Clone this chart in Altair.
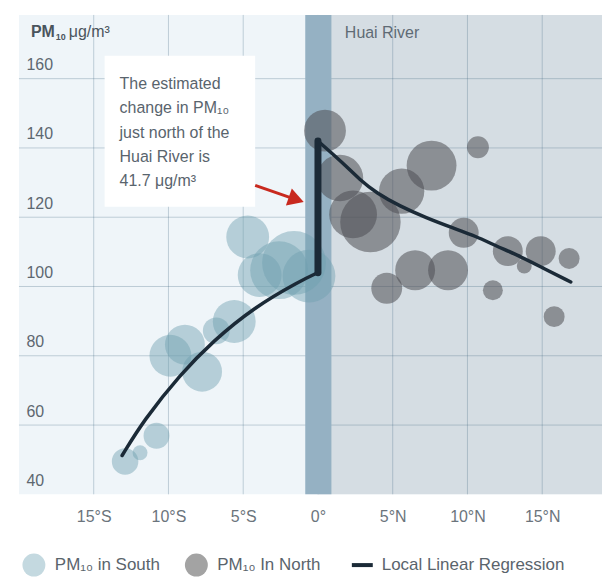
import altair as alt
import pandas as pd

FONT = "Liberation Sans"
W, H = 585, 481
X_MIN, X_MAX = -20, 19.0
Y_MIN, Y_MAX = 40, 178.4

# ---- data ----
south_lat = [-12.9, -11.9, -10.8, -9.87, -8.9, -7.75, -6.8, -5.6, -4.7, -3.9, -2.6, -1.6, -0.6]
south_pm = [49.5, 52.0, 56.9, 80.0, 83.2, 75.4, 87.2, 89.9, 114.3, 103.3, 104.7, 106.8, 103.0]
south_w = [177, 56, 169, 441, 400, 400, 182, 462, 462, 484, 841, 1024, 700]

north_lat = [0.47, 1.47, 2.35, 3.51, 5.6, 7.6, 10.7, 9.75, 4.6, 6.5, 8.7, 11.7, 12.7, 13.8, 14.9, 16.8, 15.8]
north_pm = [145.0, 131.3, 120.8, 118.6, 127.5, 134.9, 140.2, 115.5, 99.5, 104.7, 104.7, 98.9, 110.2, 105.9, 110.2, 108.1, 91.3]
north_w = [441, 545, 576, 920, 515, 625, 121, 225, 240, 400, 400, 100, 225, 56, 225, 110, 110]

reg_s_lat = [-13.1, -11.67, -9.2, -7.0, -4.3, -1.2, 0.0]
reg_s_pm = [51.2, 61.3, 74.7, 84.3, 93.9, 101.6, 104.0]
reg_n_lat = [0.0, 1.69, 2.8, 3.91, 5.47, 7.25, 9.02, 10.58, 11.91, 13.25, 15.02, 16.91]
reg_n_pm = [142.0, 135.6, 130.8, 127.0, 123.2, 119.8, 116.9, 114.5, 111.7, 109.3, 105.4, 101.3]

jump_lat = [0.0]
jump_low = [104.0]
jump_high = [142.0]

x_ticks = [-15, -10, -5, 0, 5, 10, 15]
y_ticks = [40, 60, 80, 100, 120, 140, 160]
y_grid = [60, 80, 100, 120, 140, 160]

river_left, river_right = [-0.85], [0.9]

note_lines = ["The estimated", "change in PM\u2081\u2080", "just north of the",
              "Huai River is", "41.7 \u03bcg/m\u00b3"]

# ---- frames ----
south_df = pd.DataFrame({"lat": south_lat, "pm": south_pm, "w": south_w})
north_df = pd.DataFrame({"lat": north_lat, "pm": north_pm, "w": north_w})
reg_df = pd.concat([
    pd.DataFrame({"lat": reg_s_lat, "pm": reg_s_pm, "side": "S"}),
    pd.DataFrame({"lat": reg_n_lat, "pm": reg_n_pm, "side": "N"}),
])
jump_df = pd.DataFrame({"lat": jump_lat, "lo": jump_low, "hi": jump_high})

xs = alt.Scale(domain=[X_MIN, X_MAX], nice=False, zero=False)
ys = alt.Scale(domain=[Y_MIN, Y_MAX], nice=False, zero=False)
size_scale = alt.Scale(domain=[0, 1000], range=[0, 4000], zero=True)

x_axis = alt.Axis(values=x_ticks, grid=False, domain=False, ticks=False, title=None,
                  labelExpr="datum.value < 0 ? (-datum.value) + '°S' : (datum.value > 0 ? datum.value + '°N' : '0°')",
                  labelFont=FONT, labelFontSize=16, labelColor="#6b747c", labelPadding=14)
y_axis = alt.Axis(values=y_ticks, grid=False, domain=False, ticks=False, title=None,
                  labelAlign="left", labelBaseline="alphabetic", labelPadding=-7, labelOffset=-9,
                  labelFont=FONT, labelFontSize=16, labelColor="#5d6770")

north_bg = alt.Chart(pd.DataFrame({"a": [0.0], "b": [X_MAX]})).mark_rect(
    color="#d5dde3").encode(
    x=alt.X("a:Q", scale=xs, axis=x_axis), x2="b:Q",
    y=alt.value(0), y2=alt.value(H))

vgrid = alt.Chart(pd.DataFrame({"v": x_ticks})).mark_rule(
    color="#3c647d", opacity=0.28, strokeWidth=1).encode(
    x=alt.X("v:Q", scale=xs), y=alt.value(0), y2=alt.value(H))
hgrid = alt.Chart(pd.DataFrame({"v": y_grid})).mark_rule(
    color="#3c647d", opacity=0.28, strokeWidth=1).encode(
    y=alt.Y("v:Q", scale=ys, axis=y_axis), x=alt.value(0), x2=alt.value(W))

river = alt.Chart(pd.DataFrame({"a": river_left, "b": river_right})).mark_rect(
    color="#95b1c3").encode(
    x=alt.X("a:Q", scale=xs), x2="b:Q", y=alt.value(0), y2=alt.value(H))

river_label = alt.Chart(pd.DataFrame({"lat": [1.8], "pm": [173.2], "t": ["Huai River"]})).mark_text(
    align="left", baseline="middle", font=FONT, fontSize=16, color="#5f6b75").encode(
    x=alt.X("lat:Q", scale=xs), y=alt.Y("pm:Q", scale=ys), text="t:N")

box = alt.Chart(pd.DataFrame({"a": [-14.27], "b": [-4.2], "c": [123.0], "d": [166.6]})).mark_rect(
    color="white").encode(
    x=alt.X("a:Q", scale=xs), x2="b:Q", y=alt.Y("c:Q", scale=ys), y2="d:Q")

note = alt.Chart(pd.DataFrame({"lat": [-13.27], "pm": [157.0], "t": [note_lines]})).mark_text(
    align="left", baseline="alphabetic", font=FONT, fontSize=16, lineHeight=24.4,
    color="#59646d").encode(
    x=alt.X("lat:Q", scale=xs), y=alt.Y("pm:Q", scale=ys), text="t")

arrow_df = pd.DataFrame({"x1": [-4.2], "y1": [129.2], "x2": [-1.6], "y2": [125.3]})
arrow_line = alt.Chart(arrow_df).mark_rule(color="#c8291e", strokeWidth=3).encode(
    x=alt.X("x1:Q", scale=xs), y=alt.Y("y1:Q", scale=ys), x2="x2:Q", y2="y2:Q")
arrow_head = alt.Chart(pd.DataFrame({"lat": [-1.45], "pm": [125.1]})).mark_point(
    shape="triangle-right", filled=True, color="#c8291e", opacity=1, size=330, angle=19).encode(
    x=alt.X("lat:Q", scale=xs), y=alt.Y("pm:Q", scale=ys))

south_pts = alt.Chart(south_df).mark_circle(color="#6ea0b0", opacity=0.45).encode(
    x=alt.X("lat:Q", scale=xs), y=alt.Y("pm:Q", scale=ys),
    size=alt.Size("w:Q", scale=size_scale, legend=None))
north_pts = alt.Chart(north_df).mark_circle(color="#4f4f53", opacity=0.55).encode(
    x=alt.X("lat:Q", scale=xs), y=alt.Y("pm:Q", scale=ys),
    size=alt.Size("w:Q", scale=size_scale, legend=None))

reg = alt.Chart(reg_df).mark_line(color="#1b2a37", strokeWidth=3.5, interpolate="basis",
                                  strokeCap="round").encode(
    x=alt.X("lat:Q", scale=xs), y=alt.Y("pm:Q", scale=ys), detail="side:N")
jump = alt.Chart(jump_df).mark_rule(color="#1b2a37", strokeWidth=7, strokeCap="round").encode(
    x=alt.X("lat:Q", scale=xs), y=alt.Y("lo:Q", scale=ys), y2="hi:Q")

t_pm = alt.Chart(pd.DataFrame({"t": ["PM"]})).mark_text(
    align="left", baseline="middle", font=FONT, fontSize=16, fontWeight="bold", color="#4a545d").encode(
    x=alt.value(12), y=alt.value(17), text="t:N")
t_sub = alt.Chart(pd.DataFrame({"t": ["10"]})).mark_text(
    align="left", baseline="middle", font=FONT, fontSize=9, fontWeight="bold", color="#4a545d").encode(
    x=alt.value(37), y=alt.value(22), text="t:N")
t_unit = alt.Chart(pd.DataFrame({"t": ["\u03bcg/m\u00b3"]})).mark_text(
    align="left", baseline="middle", font=FONT, fontSize=16, color="#4a545d").encode(
    x=alt.value(50), y=alt.value(17), text="t:N")

LY = 552
leg_c1 = alt.Chart(pd.DataFrame({"k": [1]})).mark_circle(color="#c4d9e0", opacity=1, size=529).encode(
    x=alt.value(15), y=alt.value(LY))
leg_c2 = alt.Chart(pd.DataFrame({"k": [1]})).mark_circle(color="#a3a3a3", opacity=1, size=529).encode(
    x=alt.value(178), y=alt.value(LY))
leg_l = alt.Chart(pd.DataFrame({"k": [1]})).mark_rule(color="#1b2a37", strokeWidth=4).encode(
    x=alt.value(334), x2=alt.value(355), y=alt.value(LY))
leg_txt = alt.Chart(pd.DataFrame({
    "t": ["PM\u2081\u2080 in South", "PM\u2081\u2080 In North", "Local Linear Regression"],
    "px": [36, 199, 364]})).mark_text(
    align="left", baseline="middle", font=FONT, fontSize=17, color="#5a646c").encode(
    x=alt.X("px:Q", scale=None), y=alt.value(LY), text="t:N")

chart = alt.layer(
    north_bg, vgrid, hgrid, river, box, river_label, note, arrow_line, arrow_head,
    south_pts, north_pts, reg, jump, t_pm, t_sub, t_unit, leg_c1, leg_c2, leg_l, leg_txt
).properties(
    width=W, height=H,
    padding={"left": 10, "top": 5, "right": 0, "bottom": 0}
).configure_view(
    fill="#eff5f9", stroke=None
).configure_axis(
    labelFlush=False, labelOverlap=False
)

chart.save("out.html", embed_options={"renderer": "svg", "actions": False})
